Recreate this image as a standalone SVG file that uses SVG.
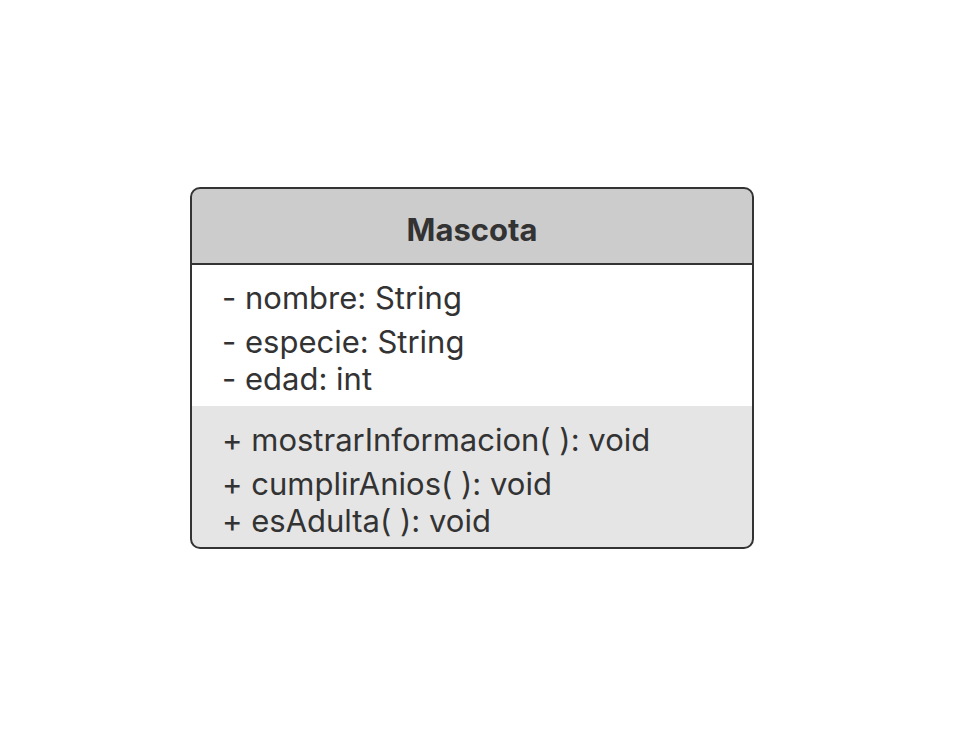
<svg xmlns="http://www.w3.org/2000/svg" width="953" height="752" viewBox="0 0 953 752">
<style>
.t{font-family:Inter,"Noto Sans",sans-serif;font-size:31px;fill:#333333}
.h{font-family:Inter,"Noto Sans",sans-serif;font-size:31px;font-weight:bold;fill:#333333}
</style>
<rect width="953" height="752" fill="#ffffff"/>
<g id="Mascota">
<clipPath id="c"><rect x="191" y="188" width="562" height="360" rx="9"/></clipPath>
<g clip-path="url(#c)">
<rect x="191" y="188" width="562" height="76" fill="#cccccc"/>
<rect x="191" y="264" width="562" height="142" fill="#ffffff"/>
<rect x="191" y="406" width="562" height="142" fill="#e5e5e5"/>
</g>
<line x1="191" y1="264" x2="753" y2="264" stroke="#333333" stroke-width="2"/>
<rect x="191" y="188" width="562" height="360" rx="9" fill="none" stroke="#333333" stroke-width="2"/>
<text class="h" x="472" y="241" text-anchor="middle">Mascota</text>
<text class="t" x="222" y="309">- nombre: String</text>
<text class="t" x="222" y="353">- especie: String</text>
<text class="t" x="222" y="390">- edad: int</text>
<text class="t" x="222" y="451">+ mostrarInformacion( ): void</text>
<text class="t" x="222" y="495">+ cumplirAnios( ): void</text>
<text class="t" x="222" y="532">+ esAdulta( ): void</text>
</g>
<g id="connectors"/>
</svg>
